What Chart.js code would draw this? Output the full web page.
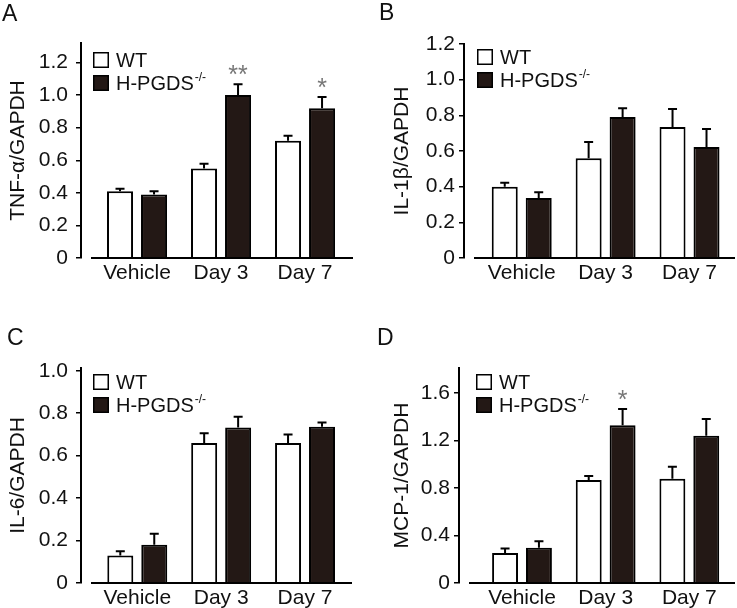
<!DOCTYPE html>
<html>
<head>
<meta charset="utf-8">
<script src="https://cdn.jsdelivr.net/npm/chart.js@4.4.1/dist/chart.umd.min.js"></script>
<style>
    html, body { margin: 0; padding: 0; background: #fff; }
    #wrap { position: relative; width: 737px; height: 608px; overflow: hidden; }
    #wrap canvas { position: absolute; }
</style>
</head>
<body>
<div id="wrap">
    <canvas id="chartA" width="368" height="300" style="left:0;top:0"></canvas>
    <canvas id="chartB" width="369" height="300" style="left:368px;top:0"></canvas>
    <canvas id="chartC" width="368" height="308" style="left:0;top:300px"></canvas>
    <canvas id="chartD" width="369" height="308" style="left:368px;top:300px"></canvas>
</div>
<script>
// values (mean, + SEM)
const categories = ['Vehicle', 'Day 3', 'Day 7'];
const groups = ['WT', 'H-PGDS'];
const koSup = '-/-';

// A - TNF-a
const tnfWT = [0.41, 0.55, 0.72];
const tnfWTErr = [0.015, 0.028, 0.03];
const tnfKO = [0.39, 1.0, 0.92];
const tnfKOErr = [0.02, 0.066, 0.068];
const tnfSig = ['', '**', '*'];
const tnfTicks = [0, 0.2, 0.4, 0.6, 0.8, 1.0, 1.2];

// B - IL-1b
const il1WT = [0.40, 0.56, 0.735];
const il1WTErr = [0.022, 0.09, 0.10];
const il1KO = [0.336, 0.79, 0.623];
const il1KOErr = [0.032, 0.05, 0.10];
const il1Sig = ['', '', ''];
const il1Ticks = [0, 0.2, 0.4, 0.6, 0.8, 1.0, 1.2];

// C - IL-6
const il6WT = [0.13, 0.66, 0.66];
const il6WTErr = [0.02, 0.045, 0.04];
const il6KO = [0.18, 0.733, 0.736];
const il6KOErr = [0.052, 0.05, 0.02];
const il6Sig = ['', '', ''];
const il6Ticks = [0, 0.2, 0.4, 0.6, 0.8, 1.0];

// D - MCP-1
const mcpWT = [0.253, 0.867, 0.878];
const mcpWTErr = [0.037, 0.033, 0.10];
const mcpKO = [0.296, 1.329, 1.24];
const mcpKOErr = [0.056, 0.136, 0.14];
const mcpSig = ['', '*', ''];
const mcpTicks = [0, 0.4, 0.8, 1.2, 1.6];

const FONT = '"Liberation Sans", Arial, sans-serif';
const INK = '#111';
const KO_FILL = '#231815';

const panels = [
    { id: 'chartA', letter: 'A', title: 'TNF-α/GAPDH', wt: tnfWT, wtErr: tnfWTErr, ko: tnfKO, koErr: tnfKOErr, sig: tnfSig, ticks: tnfTicks,
      yMax: 1.32, pad: { top: 43, left: 2, right: 15, bottom: 0 }, yWidth: 79, xMin: -0.667, xMax: 2.571, xH: 42, xPad: -5,
      tickPad: 8, titlePad: 5, letterAt: [2, 21], legendAt: [12, 9] },
    { id: 'chartB', letter: 'B', title: 'IL-1β/GAPDH', wt: il1WT, wtErr: il1WTErr, ko: il1KO, koErr: il1KOErr, sig: il1Sig, ticks: il1Ticks,
      yMax: 1.2, pad: { top: 44, left: 2, right: 2, bottom: 0 }, yWidth: 94, xMin: -0.688, xMax: 2.542, xH: 42, xPad: -5,
      tickPad: 4, titlePad: 21, letterAt: [11, 20], legendAt: [13, 5] },
    { id: 'chartC', letter: 'C', title: 'IL-6/GAPDH', wt: il6WT, wtErr: il6WTErr, ko: il6KO, koErr: il6KOErr, sig: il6Sig, ticks: il6Ticks,
      yMax: 1.013, pad: { top: 68, left: 2, right: 16, bottom: 0 }, yWidth: 79, xMin: -0.671, xMax: 2.56, xH: 25, xPad: -5,
      tickPad: 8, titlePad: 5, letterAt: [7, 45], legendAt: [12, 6] },
    { id: 'chartD', letter: 'D', title: 'MCP-1/GAPDH', wt: mcpWT, wtErr: mcpWTErr, ko: mcpKO, koErr: mcpKOErr, sig: mcpSig, ticks: mcpTicks,
      yMax: 1.81, pad: { top: 68, left: 2, right: 2, bottom: 0 }, yWidth: 89, xMin: -0.753, xMax: 2.546, xH: 25, xPad: -5,
      tickPad: 4, titlePad: 21, letterAt: [9, 45], legendAt: [17, 6] },
];

// error bars, asterisks, detached x axis, legend box and panel letter
function extrasFor(p) {
    return {
        id: 'extras',
        afterDatasetsDraw(chart) {
            const { ctx } = chart;
            const y = chart.scales.y;
            ctx.save();
            ctx.strokeStyle = '#000';
            ctx.lineWidth = 2;
            chart.data.datasets.forEach((ds, di) => {
                chart.getDatasetMeta(di).data.forEach((bar, i) => {
                    const top = y.getPixelForValue(ds.data[i].y + ds.err[i]);
                    ctx.beginPath();
                    ctx.moveTo(bar.x, bar.y);
                    ctx.lineTo(bar.x, top);
                    ctx.moveTo(bar.x - 4.5, top);
                    ctx.lineTo(bar.x + 4.5, top);
                    ctx.stroke();
                    if (ds.sig && ds.sig[i]) {
                        ctx.fillStyle = '#777';
                        ctx.font = '25px ' + FONT;
                        ctx.textAlign = 'center';
                        ctx.textBaseline = 'alphabetic';
                        ctx.fillText(ds.sig[i], bar.x, top - 1);
                    }
                });
            });
            ctx.restore();
        },
        afterDraw(chart) {
            const { ctx, chartArea } = chart;
            const y0 = chart.scales.y.getPixelForValue(0);
            ctx.save();
            ctx.strokeStyle = '#000';
            ctx.lineWidth = 2;
            ctx.beginPath();
            ctx.moveTo(chartArea.left + 10, y0);
            ctx.lineTo(chartArea.right, y0);
            ctx.stroke();

            // legend
            const lx = chartArea.left + p.legendAt[0];
            chart.data.datasets.forEach((ds, di) => {
                const ly = chartArea.top + p.legendAt[1] + di * 23;
                ctx.fillStyle = ds.backgroundColor;
                ctx.fillRect(lx, ly, 16, 16);
                ctx.lineWidth = 1.5;
                ctx.strokeRect(lx + 0.75, ly + 0.75, 14.5, 14.5);
                ctx.fillStyle = INK;
                ctx.font = '20px ' + FONT;
                ctx.textAlign = 'left';
                ctx.textBaseline = 'middle';
                ctx.fillText(ds.label, lx + 23, ly + 9);
                if (di === 1) {
                    const w = ctx.measureText(ds.label).width;
                    ctx.font = '12px ' + FONT;
                    ctx.fillText(koSup, lx + 24 + w, ly + 3);
                }
            });

            ctx.fillStyle = INK;
            ctx.font = '23px ' + FONT;
            ctx.textAlign = 'left';
            ctx.textBaseline = 'alphabetic';
            ctx.fillText(p.letter, p.letterAt[0], p.letterAt[1]);
            ctx.restore();
        }
    };
}

document.addEventListener('DOMContentLoaded', () => {
    panels.forEach(p => {
        const ctx = document.getElementById(p.id).getContext('2d');
        new Chart(ctx, {
            type: 'bar',
            data: {
                datasets: [
                {
                    label: groups[0],
                    data: p.wt.map((v, i) => ({ x: i, y: v })),
                    err: p.wtErr,
                    backgroundColor: '#fff',
                    borderColor: '#000',
                    borderWidth: 2,
                },
                {
                    label: groups[1],
                    data: p.ko.map((v, i) => ({ x: i, y: v })),
                    err: p.koErr,
                    sig: p.sig,
                    backgroundColor: KO_FILL,
                    borderColor: '#000',
                    borderWidth: 2,
                }
                ]
            },
            options: {
                responsive: false,
                animation: false,
                categoryPercentage: 0.81,
                barPercentage: 0.765,
                layout: { padding: p.pad },
                plugins: {
                    legend: { display: false },
                    tooltip: { enabled: false },
                },
                scales: {
                    x: {
                        type: 'linear',
                        min: p.xMin,
                        max: p.xMax,
                        offset: false,
                        afterBuildTicks: s => { s.ticks = categories.map((c, i) => ({ value: i })); },
                        afterFit: s => { s.height = p.xH; },
                        border: { display: false },
                        grid: { display: false, offset: false },
                        ticks: {
                            autoSkip: false,
                            maxRotation: 0,
                            padding: p.xPad,
                            color: INK,
                            font: { family: FONT, size: 21 },
                            callback: v => categories[v]
                        }
                    },
                    y: {
                        min: 0,
                        max: p.yMax,
                        afterBuildTicks: s => { s.ticks = p.ticks.map(v => ({ value: v })); },
                        afterFit: s => { s.width = p.yWidth; },
                        border: { display: true, color: '#000', width: 2 },
                        grid: { display: true, drawOnChartArea: false, drawTicks: true, tickLength: 5, color: '#000', lineWidth: 1.5 },
                        ticks: {
                            padding: p.tickPad,
                            color: INK,
                            font: { family: FONT, size: 21 },
                            callback: v => v === 0 ? '0' : v.toFixed(1)
                        },
                        title: {
                            display: true,
                            text: p.title,
                            color: INK,
                            font: { family: FONT, size: 21 },
                            padding: { top: p.titlePad - 1, bottom: 0 }
                        }
                    }
                }
            },
            plugins: [extrasFor(p)]
        });
    });
});
</script>
</body>
</html>
